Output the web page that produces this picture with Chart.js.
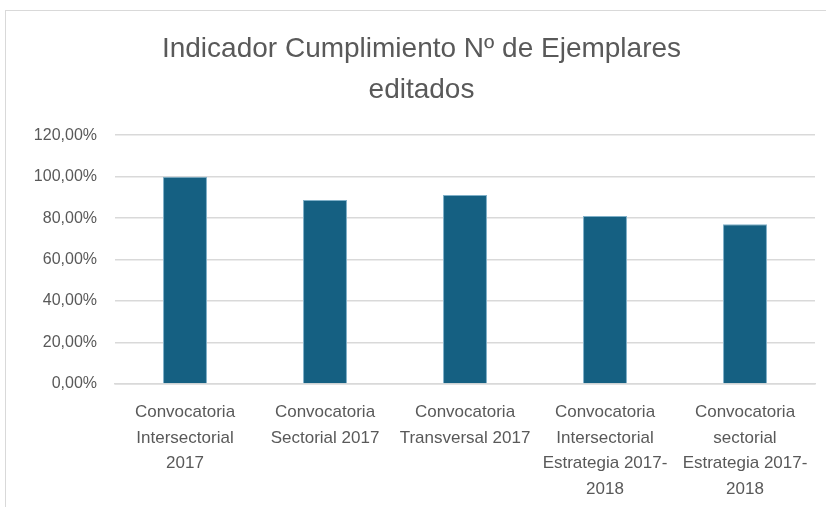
<!DOCTYPE html>
<html>
<head>
<meta charset="utf-8">
<script src="https://cdn.jsdelivr.net/npm/chart.js@4"></script>
<style>
    html, body { margin: 0; padding: 0; background: #fff; }
    #wrap { position: relative; width: 826px; height: 507px; overflow: hidden; }
    #frame { position: absolute; left: 5px; top: 10px; width: 900px; height: 600px; border: 1.5px solid #d9d9d9; pointer-events: none; }
</style>
</head>
<body>
<div id="wrap">
    <canvas id="chart" width="826" height="507"></canvas>
    <div id="frame"></div>
</div>
<script>
// --- Data ---
const categories = [
    ['Convocatoria', 'Intersectorial', '2017'],
    ['Convocatoria', 'Sectorial 2017'],
    ['Convocatoria', 'Transversal 2017'],
    ['Convocatoria', 'Intersectorial', 'Estrategia 2017-', '2018'],
    ['Convocatoria', 'sectorial', 'Estrategia 2017-', '2018']
];
const cumplimiento = [100, 88.7, 91.1, 81.0, 77.1];
const titleLines = ['Indicador Cumplimiento Nº de Ejemplares', 'editados'];

const FONT = "'Liberation Sans Narrow', 'Liberation Sans', sans-serif";
const TEXT = '#595959';
const GRID = '#d9d9d9';

function formatPct(v) {
    return v.toFixed(2).replace('.', ',') + '%';
}

new Chart(document.getElementById('chart').getContext('2d'), {
    type: 'bar',
    data: {
        labels: categories,
        datasets: [{
            data: cumplimiento,
            backgroundColor: '#156082',
            borderColor: '#7fb0c8',
            borderWidth: { top: 1, left: 1, right: 1, bottom: 0 },
            categoryPercentage: 1,
            barPercentage: 0.314
        }]
    },
    options: {
        responsive: false,
        animation: false,
        layout: { padding: { left: 28, right: 11, top: 29, bottom: 0 } },
        plugins: {
            legend: { display: false },
            tooltip: { enabled: false },
            title: {
                display: true,
                text: titleLines,
                color: TEXT,
                font: { family: FONT, size: 28, weight: 'normal', lineHeight: 1.45 },
                padding: { top: 0, bottom: 25 }
            }
        },
        scales: {
            x: {
                grid: { display: false },
                border: { color: GRID, width: 1.5 },
                ticks: {
                    color: TEXT,
                    font: { family: FONT, size: 17, lineHeight: 1.5 },
                    maxRotation: 0,
                    autoSkip: false,
                    padding: 8
                },
                afterFit: s => { s.height = 123; }
            },
            y: {
                min: 0,
                max: 120,
                ticks: {
                    stepSize: 20,
                    color: TEXT,
                    font: { family: FONT, size: 16 },
                    padding: 18,
                    callback: v => formatPct(v)
                },
                grid: { color: GRID, lineWidth: 1.5, drawTicks: false },
                border: { display: false },
                afterFit: s => { s.width = 87; }
            }
        }
    }
});
</script>
</body>
</html>
